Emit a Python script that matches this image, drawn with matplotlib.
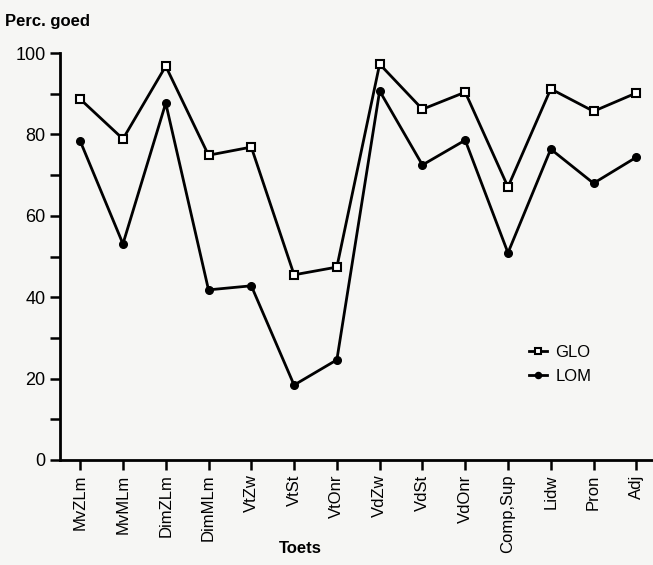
import matplotlib
matplotlib.use('Agg')
import matplotlib.pyplot as plt
from matplotlib.ticker import MultipleLocator

toetsen = ['MvZLm', 'MvMLm', 'DimZLm', 'DimMLm', 'VtZw', 'VtSt', 'VtOnr',
           'VdZw', 'VdSt', 'VdOnr', 'Comp,Sup', 'Lidw', 'Pron', 'Adj']
glo = [88.7, 78.9, 96.8, 74.9, 76.9, 45.5, 47.4, 97.3, 86.2, 90.4, 67.1, 91.2, 85.7, 90.2]
lom = [78.4, 53.1, 87.7, 41.8, 42.8, 18.4, 24.6, 90.7, 72.5, 78.6, 50.9, 76.4, 68.0, 74.4]

plt.rcParams['font.family'] = ['Liberation Sans', 'DejaVu Sans']
bg = '#f6f6f4'

fig = plt.figure(figsize=(6.53, 5.65), dpi=100, facecolor=bg)
ax = fig.add_axes([0.092, 0.186, 0.908, 0.72], facecolor=bg)

x = range(len(toetsen))
ax.plot(x, glo, color='black', lw=2, marker='s', ms=5.5, mfc='white', mec='black', mew=1.5, label='GLO')
ax.plot(x, lom, color='black', lw=2, marker='o', ms=5.5, label='LOM')

ax.set_xlim(-0.47, 13.39)
ax.set_ylim(0, 100)
ax.set_xticks(list(x))
ax.set_xticklabels(toetsen, rotation=90, fontsize=12)
ax.yaxis.set_major_locator(MultipleLocator(20))
ax.yaxis.set_minor_locator(MultipleLocator(10))
ax.tick_params(axis='y', labelsize=13, width=1.8, length=7)
ax.tick_params(axis='y', which='minor', width=1.8, length=7)
ax.tick_params(axis='x', width=1.8, length=7)
for s in ['top', 'right']:
    ax.spines[s].set_visible(False)
for s in ['left', 'bottom']:
    ax.spines[s].set_linewidth(2)

fig.text(0.46, 0.03, 'Toets', fontsize=12, fontweight='bold', ha='center', va='center')
fig.text(0.008, 0.962, 'Perc. goed', fontsize=12, fontweight='bold', va='center')

ax.legend(loc='center left', bbox_to_anchor=(0.765, 0.235), frameon=False,
          fontsize=12, handlelength=1.1, handletextpad=0.5, labelspacing=0.55,
          markerscale=0.8)

fig.savefig('out.png', dpi=100, facecolor=bg)
